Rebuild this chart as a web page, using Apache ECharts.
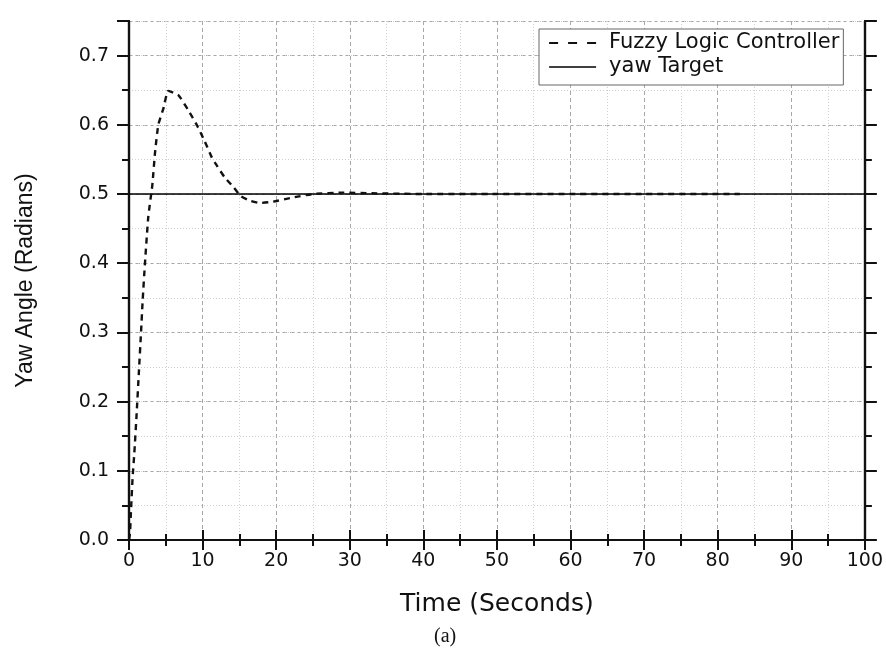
<!DOCTYPE html>
<html>
<head>
<meta charset="utf-8">
<script src="https://cdn.jsdelivr.net/npm/echarts@6/dist/echarts.min.js"></script>
<style>html,body{margin:0;padding:0;background:#fff}#c{width:886px;height:651px}</style>
</head>
<body>
<div id="c"></div>
<script>
// ---- data ----
const flcTime = [0, 0.14, 0.27, 0.5, 0.72, 1.04, 1.36, 1.63, 1.86, 2.17, 2.62, 3.17, 3.53, 3.98, 4.66, 5.34, 6.7, 8.06, 9.2, 10.3, 11.2, 11.7, 13.0, 14.2, 15.2, 16.5, 17.8, 19.6, 22.3, 25.0, 29.1, 33, 40, 50, 60, 70, 83];
const flcYaw  = [0, 0.01, 0.043, 0.092, 0.125, 0.183, 0.246, 0.299, 0.347, 0.400, 0.467, 0.513, 0.559, 0.600, 0.623, 0.649, 0.643, 0.621, 0.600, 0.576, 0.554, 0.545, 0.524, 0.510, 0.497, 0.490, 0.487, 0.489, 0.495, 0.500, 0.502, 0.501, 0.500, 0.500, 0.500, 0.500, 0.500];
const targetTime = [0, 100];
const targetYaw  = [0.5, 0.5];
const seriesNames = ['Fuzzy Logic Controller', 'yaw Target'];
const xTitle = 'Time (Seconds)';
const yTitle = 'Yaw Angle (Radians)';
const caption = '(a)';

const flcData = flcTime.map((t, i) => [t, flcYaw[i]]);
const targetData = targetTime.map((t, i) => [t, targetYaw[i]]);

const black = '#111';
const lineAxis = {show: true, lineStyle: {color: black, width: 2.2}};
const noLabel = {show: false};
const majorSplit = {show: true, lineStyle: {color: '#a8a8a8', width: 1, type: [4, 3]}};
const minorSplit = {show: true, lineStyle: {color: '#d0d0d0', width: 1, type: [1, 2]}};

function xAx(pos, withLabel) {
  return {
    type: 'value', position: pos, min: 0, max: 100, interval: 10,
    axisLine: lineAxis,
    axisTick: {show: true, length: 10, lineStyle: {color: black, width: 2}},
    minorTick: {show: true, splitNumber: 2, length: 6, lineStyle: {color: black, width: 2}},
    axisLabel: withLabel ? {show: true, color: '#111', fontFamily: 'DejaVu Sans', fontSize: 19, margin: 12} : noLabel,
    splitLine: withLabel ? majorSplit : {show: false},
    minorSplitLine: withLabel ? minorSplit : {show: false},
    name: withLabel ? xTitle : '',
    nameLocation: 'middle', nameGap: 52,
    nameTextStyle: {color: '#111', fontFamily: 'DejaVu Sans', fontSize: 25}
  };
}
function yAx(pos, major, withLabel) {
  return {
    type: 'value', position: pos, min: 0, max: 0.75, interval: major ? 0.1 : 0.05,
    axisLine: lineAxis,
    axisTick: {show: true, length: major ? 12 : 7, lineStyle: {color: black, width: 2}},
    axisLabel: withLabel ? {show: true, color: '#111', fontFamily: 'DejaVu Sans', fontSize: 19, margin: 20,
      formatter: v => (v > 0.71 ? '' : v.toFixed(1))} : noLabel,
    splitLine: (pos === 'left') ? (major ? majorSplit : minorSplit) : {show: false},
    name: withLabel ? yTitle : '',
    nameLocation: 'middle', nameGap: 92,
    nameTextStyle: {color: '#111', fontFamily: 'Liberation Sans', fontSize: 23}
  };
}

const chart = echarts.init(document.getElementById('c'), null, {renderer: 'canvas'});
chart.setOption({
  animation: false,
  backgroundColor: '#fff',
  title: {text: caption, left: 434, top: 627, padding: 0,
    textStyle: {fontFamily: 'Liberation Serif', fontSize: 20, fontWeight: 'normal', color: '#111'}},
  grid: {left: 129, right: 21, top: 21, bottom: 111, containLabel: false},
  legend: {
    orient: 'vertical', left: 539, top: 29, width: 304,
    padding: [2, 4, 6, 9], itemGap: 0, itemWidth: 47, itemHeight: 14,
    backgroundColor: '#fff', borderColor: '#666', borderWidth: 1,
    itemStyle: {opacity: 0, borderWidth: 0},
    textStyle: {fontFamily: 'DejaVu Sans', fontSize: 21, color: '#111', lineHeight: 24, padding: [0, 0, 0, 8]},
    data: [
      {name: seriesNames[0], lineStyle: {type: [9, 10], width: 2.2}},
      {name: seriesNames[1], lineStyle: {width: 1.3, color: '#000'}}
    ]
  },
  xAxis: [xAx('bottom', true), xAx('top', false)],
  yAxis: [yAx('left', true, true), yAx('left', false, false), yAx('right', true, false), yAx('right', false, false)],
  series: [
    {name: seriesNames[0], type: 'line', xAxisIndex: 0, yAxisIndex: 0, data: flcData,
      smooth: 0.15, symbol: 'none', showSymbol: false, z: 5,
      lineStyle: {color: black, width: 2.4, type: [6, 5]}, itemStyle: {color: black}},
    {name: seriesNames[1], type: 'line', xAxisIndex: 0, yAxisIndex: 0, data: targetData,
      symbol: 'none', showSymbol: false, z: 4,
      lineStyle: {color: '#000', width: 1.3, type: 'solid'}, itemStyle: {color: '#000'}}
  ]
});
</script>
</body>
</html>
